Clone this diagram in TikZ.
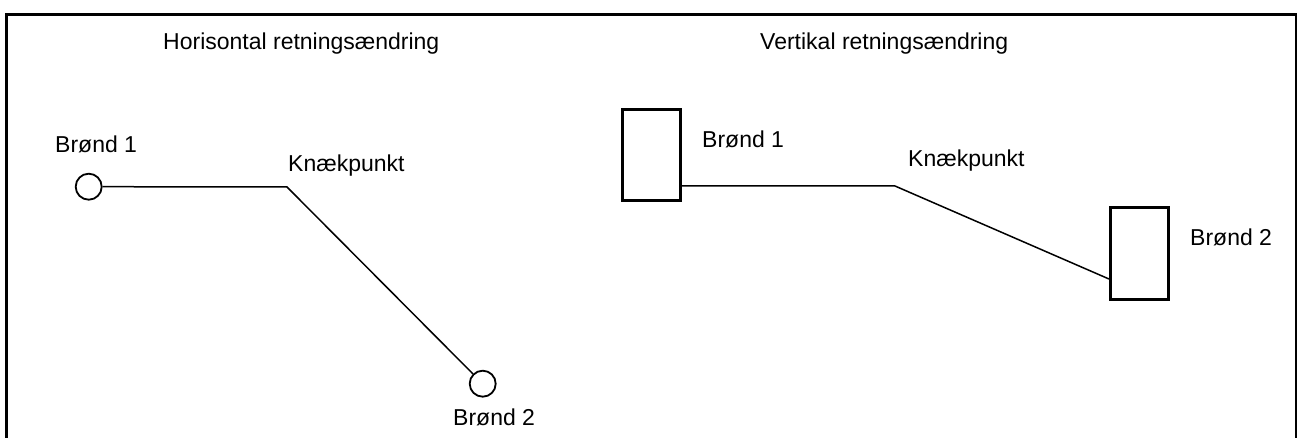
\documentclass[tikz,border=0pt]{standalone}
\usepackage{fontspec}
\setmainfont{Liberation Sans}
\begin{document}
\begin{tikzpicture}[x=1pt,y=-1pt,
  lbl/.style={anchor=base west,inner sep=0pt,font=\fontsize{23}{27}\selectfont},
  well/.style={draw,circle,line width=1.8pt,minimum size=26pt,inner sep=0pt},
  shaft/.style={draw,rectangle,line width=3pt,minimum width=58pt,minimum height=91pt,inner sep=0pt},
  pipe/.style={line width=1.5pt}]
\useasboundingbox (0,0) rectangle (1297,438);
% frame (open at the bottom)
\draw[line width=3pt] (6.5,438) -- (6.5,14.5) -- (1297,14.5);
\draw[line width=1.8pt] (1296,14.5) -- (1296,438);

% headings
\node[lbl] (t1) at (163,50) {Horisontal retningsændring};
\node[lbl] (t2) at (760,50) {Vertikal retningsændring};

% horizontal change of direction
\node[well] (c1) at (88.7,186.7) {};
\node[well] (c2) at (482.7,383.7) {};
\coordinate (k1) at (287,187);
\draw[pipe] (c1.east) -- (k1) -- (c2);
\node[lbl] (b1) at (55,153) {Brønd 1};
\node[lbl] (kp1) at (288,172) {Knækpunkt};
\node[lbl] (b2) at (453,425) {Brønd 2};

% vertical change of direction
\node[shaft] (r1) at (651.5,155) {};
\node[shaft] (r2) at (1139.5,253.5) {};
\coordinate (k2) at (895,186);
\coordinate (e2) at (1109,279);
\draw[pipe] (r1.east |- k2) -- (k2) -- (e2);
\node[lbl] (b3) at (702,148) {Brønd 1};
\node[lbl] (kp2) at (908,167) {Knækpunkt};
\node[lbl] (b4) at (1190,245) {Brønd 2};
\end{tikzpicture}
\end{document}
